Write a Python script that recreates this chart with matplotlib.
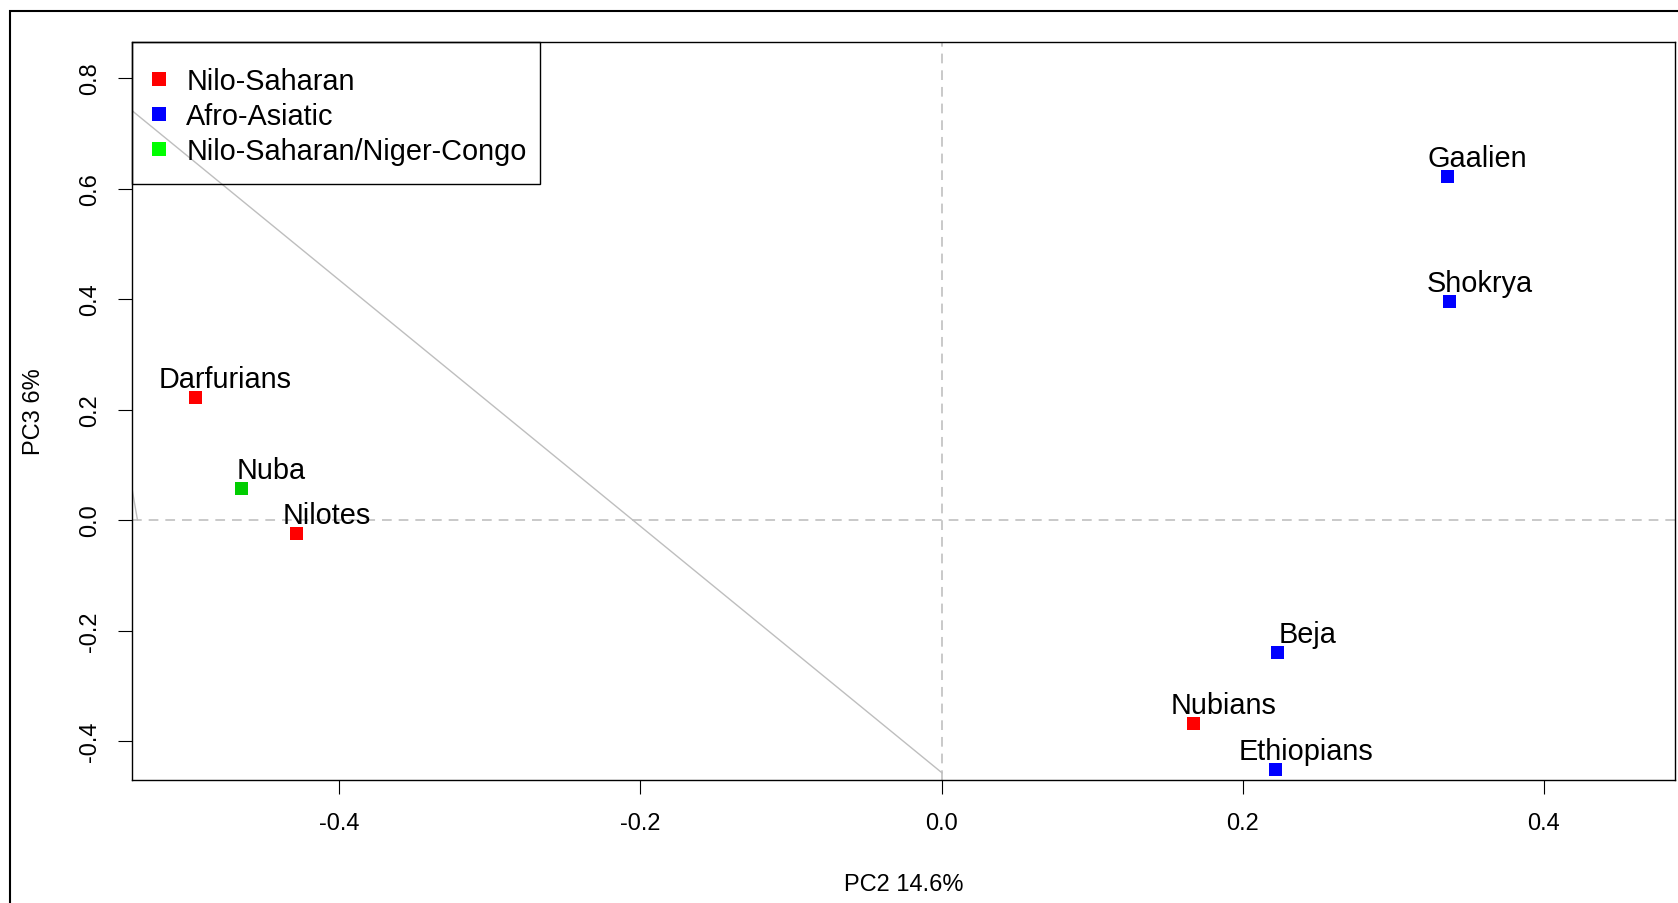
import matplotlib
matplotlib.use("Agg")
import matplotlib.pyplot as plt
from matplotlib.lines import Line2D
from matplotlib.patches import Rectangle

plt.rcParams['font.family'] = ['Liberation Sans', 'DejaVu Sans']
plt.rcParams['lines.scale_dashes'] = False

# PCA scores
populations = ['Darfurians', 'Nuba', 'Nilotes', 'Nubians', 'Beja', 'Ethiopians', 'Gaalien', 'Shokrya']
pc2 = [-0.4956, -0.4650, -0.4285, 0.1672, 0.2230, 0.2219, 0.3359, 0.3372]
pc3 = [0.2220, 0.0574, -0.0241, -0.3680, -0.2395, -0.4512, 0.6220, 0.3958]
point_colors = ['#FF0000', '#00CD00', '#FF0000', '#FF0000', '#0000FF', '#0000FF', '#0000FF', '#0000FF']

groups = ['Nilo-Saharan', 'Afro-Asiatic', 'Nilo-Saharan/Niger-Congo']
group_colors = ['#FF0000', '#0000FF', '#00FF00']

# grey segments visible inside the plot region
seg_x = [[-0.5379, 0.0003], [-0.5377, -0.5340]]
seg_y = [[0.7416, -0.4576], [0.0580, 0.0000]]

xticks = [-0.4, -0.2, 0.0, 0.2, 0.4]
yticks = [-0.4, -0.2, 0.0, 0.2, 0.4, 0.6, 0.8]

fig = plt.figure(figsize=(16.78, 9.04), dpi=100)
W, H = 1678.0, 904.0
ax_l, ax_r, ax_t, ax_b = 131.6, 1675.0, 42.5, 780.7
ax = fig.add_axes([ax_l / W, 1 - ax_b / H, (ax_r - ax_l) / W, (ax_b - ax_t) / H])
aw, ah = ax_r - ax_l, ax_b - ax_t

ax.set_xlim(-0.5379, 0.4871)
ax.set_ylim(-0.4700, 0.8661)

ax.axhline(0, color='#C0C0C0', lw=1.2, dashes=(7, 5), zorder=1)
ax.axvline(0, color='#C0C0C0', lw=1.2, dashes=(7, 5), zorder=1)
for xs, ys in zip(seg_x, seg_y):
    ax.plot(xs, ys, color='#BEBEBE', lw=1.0, zorder=1)

ax.scatter(pc2, pc3, marker='s', s=9.4 ** 2, c=point_colors, linewidths=0, zorder=3)
for name, x, y in zip(populations, pc2, pc3):
    ax.text(x + 0.02, y + 0.019, name, ha='center', va='baseline', fontsize=20.8, zorder=4)

ax.set_xticks(xticks)
ax.set_xticklabels(['%.1f' % t for t in xticks])
ax.set_yticks(yticks)
ax.set_yticklabels(['%.1f' % t for t in yticks], rotation=90, va='center')
ax.tick_params(axis='both', direction='out', length=10, width=0.8, labelsize=17, color='black')
ax.tick_params(axis='x', pad=13)
ax.tick_params(axis='y', pad=12)
for sp in ax.spines.values():
    sp.set_linewidth(1.0)
    sp.set_color('black')

ax.set_xlabel('PC2 14.6%', fontsize=17)
ax.xaxis.set_label_coords(0.5, -0.1258)
ax.set_ylabel('PC3 6%', fontsize=17)
ax.yaxis.set_label_coords(-0.0561, 0.5)

# legend: entries without frame, box drawn separately like R's legend()
handles = [Line2D([], [], marker='s', linestyle='none', markersize=9.8,
                  markerfacecolor=c, markeredgewidth=0) for c in group_colors]
ax.legend(handles, groups, loc='upper left',
          bbox_to_anchor=((151 - ax_l) / aw, 1 - (68.0 - ax_t) / ah),
          borderaxespad=0, borderpad=0, frameon=False, fontsize=20.8,
          labelspacing=0.25, handlelength=0.55, handletextpad=0.675)
ax.add_patch(Rectangle((0, 1 - (185 - ax_t) / ah), (540 - ax_l) / aw, (185 - ax_t) / ah,
                       transform=ax.transAxes, fill=False, edgecolor='black', lw=1.0,
                       clip_on=False, zorder=5))

# outer device box, runs off the right and bottom edges
fig.patches.append(Rectangle((10 / W, -0.1), 1.2, 1.1 - 12 / H, transform=fig.transFigure,
                             fill=False, edgecolor='black', lw=1.5, clip_on=False))

fig.savefig('out.png', dpi=100)
